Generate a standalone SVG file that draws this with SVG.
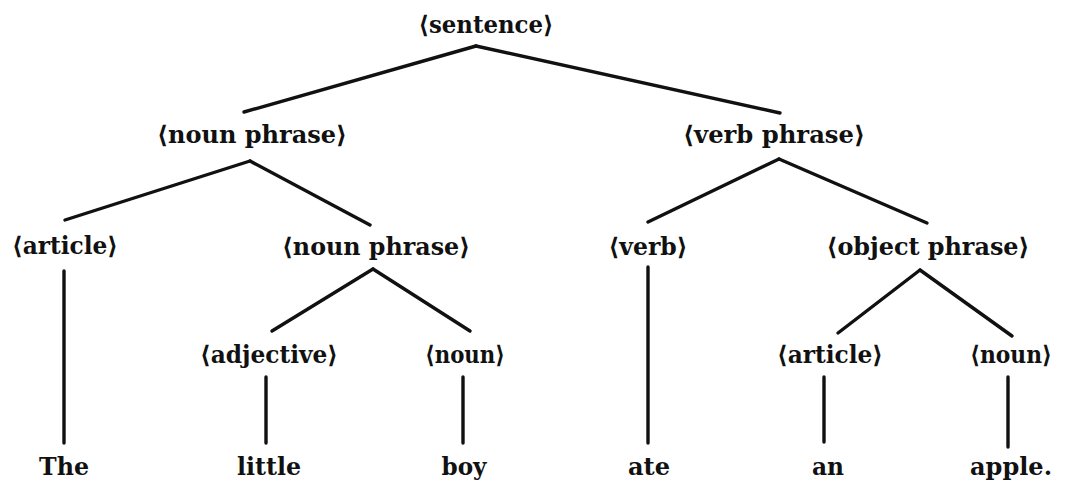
<svg xmlns="http://www.w3.org/2000/svg" width="1068" height="496" viewBox="0 0 1068 496">
<style>
.lbl{font-family:"DejaVu Serif","Liberation Serif",serif;font-weight:bold;font-size:24px;fill:#111;text-anchor:middle}
.edge{stroke:#111;stroke-width:3.4;stroke-linecap:round;fill:none}
</style>
<rect width="1068" height="496" fill="#fff"/>
<g id="connectors">
<line class="edge" x1="476" y1="46" x2="244" y2="112"/>
<line class="edge" x1="476" y1="46" x2="780" y2="113"/>
<line class="edge" x1="250" y1="161" x2="65" y2="220"/>
<line class="edge" x1="250" y1="161" x2="370" y2="225"/>
<line class="edge" x1="779" y1="159" x2="648" y2="222"/>
<line class="edge" x1="779" y1="159" x2="927" y2="223"/>
<line class="edge" x1="373" y1="269" x2="272" y2="331"/>
<line class="edge" x1="373" y1="269" x2="470" y2="331"/>
<line class="edge" x1="920" y1="270" x2="838" y2="333"/>
<line class="edge" x1="920" y1="270" x2="1012" y2="336"/>
<line class="edge" x1="64" y1="271" x2="64" y2="443"/>
<line class="edge" x1="266" y1="377" x2="266" y2="443"/>
<line class="edge" x1="463" y1="377" x2="463" y2="443"/>
<line class="edge" x1="648" y1="267" x2="648" y2="443"/>
<line class="edge" x1="824" y1="377" x2="824" y2="442"/>
<line class="edge" x1="1008" y1="377" x2="1008" y2="447"/>
</g>
<g id="n-sentence"><text class="lbl" x="486" y="33" textLength="135" lengthAdjust="spacingAndGlyphs">⟨sentence⟩</text></g>
<g id="n-np1"><text class="lbl" x="252" y="143" textLength="190" lengthAdjust="spacingAndGlyphs">⟨noun phrase⟩</text></g>
<g id="n-vp"><text class="lbl" x="774" y="143" textLength="182" lengthAdjust="spacingAndGlyphs">⟨verb phrase⟩</text></g>
<g id="n-article1"><text class="lbl" x="65" y="254" textLength="106" lengthAdjust="spacingAndGlyphs">⟨article⟩</text></g>
<g id="n-np2"><text class="lbl" x="376" y="255" textLength="188" lengthAdjust="spacingAndGlyphs">⟨noun phrase⟩</text></g>
<g id="n-verb"><text class="lbl" x="648" y="255" textLength="79" lengthAdjust="spacingAndGlyphs">⟨verb⟩</text></g>
<g id="n-op"><text class="lbl" x="928" y="255" textLength="203" lengthAdjust="spacingAndGlyphs">⟨object phrase⟩</text></g>
<g id="n-adj"><text class="lbl" x="269" y="363" textLength="138" lengthAdjust="spacingAndGlyphs">⟨adjective⟩</text></g>
<g id="n-noun1"><text class="lbl" x="465" y="363" textLength="80" lengthAdjust="spacingAndGlyphs">⟨noun⟩</text></g>
<g id="n-article2"><text class="lbl" x="830" y="363" textLength="106" lengthAdjust="spacingAndGlyphs">⟨article⟩</text></g>
<g id="n-noun2"><text class="lbl" x="1011" y="363" textLength="82" lengthAdjust="spacingAndGlyphs">⟨noun⟩</text></g>
<g id="w-the"><text class="lbl" x="64" y="475" textLength="50" lengthAdjust="spacingAndGlyphs">The</text></g>
<g id="w-little"><text class="lbl" x="269" y="475" textLength="64" lengthAdjust="spacingAndGlyphs">little</text></g>
<g id="w-boy"><text class="lbl" x="464" y="475" textLength="45" lengthAdjust="spacingAndGlyphs">boy</text></g>
<g id="w-ate"><text class="lbl" x="649" y="475" textLength="42" lengthAdjust="spacingAndGlyphs">ate</text></g>
<g id="w-an"><text class="lbl" x="828" y="475" textLength="32" lengthAdjust="spacingAndGlyphs">an</text></g>
<g id="w-apple"><text class="lbl" x="1011" y="475" textLength="82" lengthAdjust="spacingAndGlyphs">apple.</text></g>
</svg>
